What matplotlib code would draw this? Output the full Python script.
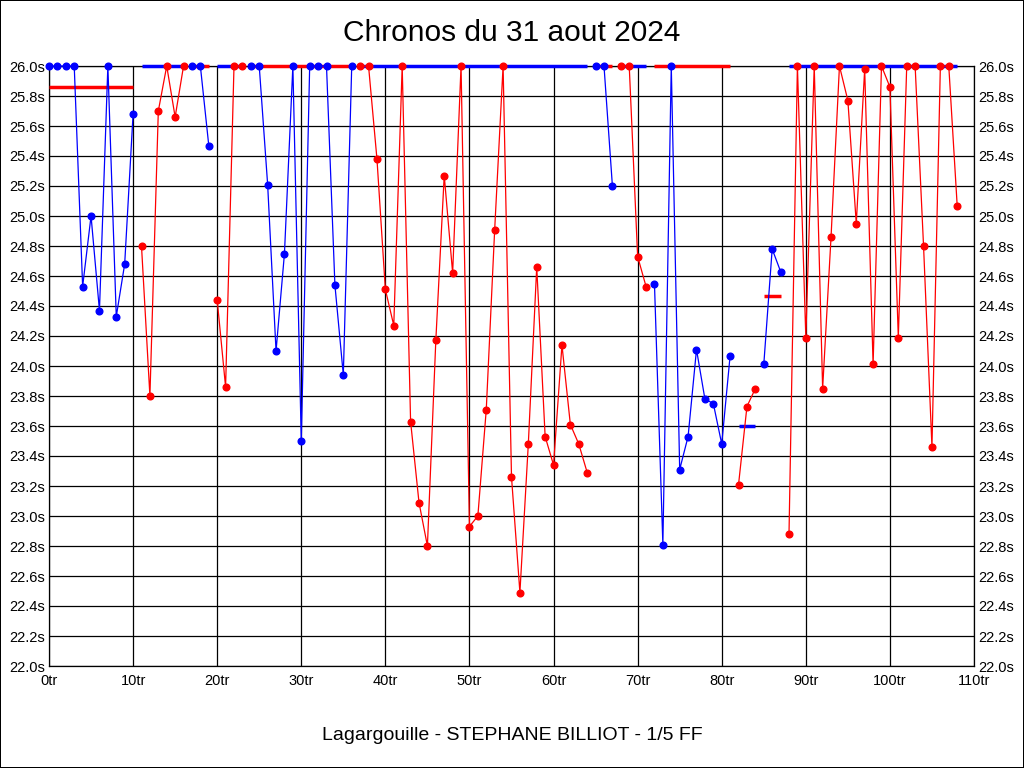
import matplotlib
matplotlib.use("Agg")
import matplotlib.pyplot as plt
from matplotlib.ticker import FuncFormatter, MultipleLocator

TITLE = "Chronos du 31 aout 2024"
SUBTITLE = "Lagargouille - STEPHANE BILLIOT - 1/5 FF"

# lap times in seconds, 26.0 = off the scale (clipped)
lap_times = [
    26.0, 26.0, 26.0, 26.0, 24.53, 25.00, 24.37, 26.0, 24.33, 24.68, 25.68,  # 0-10
    24.80, 23.80, 25.70, 26.0, 25.66, 26.0,  # 11-16
    26.0, 26.0, 25.47,  # 17-19
    24.44, 23.86, 26.0, 26.0,  # 20-23
    26.0, 26.0, 25.21, 24.10, 24.75, 26.0, 23.50, 26.0, 26.0, 26.0, 24.54, 23.94, 26.0,  # 24-36
    26.0, 26.0, 25.38, 24.51, 24.27, 26.0, 23.63, 23.09, 22.80, 24.17,
    25.27, 24.62, 26.0, 22.93, 23.00, 23.71, 24.91, 26.0, 23.26, 22.49,
    23.48, 24.66, 23.53, 23.34, 24.14, 23.61, 23.48, 23.29,  # 37-64
    26.0, 26.0, 25.20,  # 65-67
    26.0, 26.0, 24.73, 24.53,  # 68-71
    24.55, 22.81, 26.0, 23.31, 23.53, 24.11, 23.78, 23.75, 23.48, 24.07,  # 72-81
    23.21, 23.73, 23.85,  # 82-84
    24.01, 24.78, 24.63,  # 85-87
    22.88, 26.0, 24.19, 26.0, 23.85, 24.86, 26.0, 25.77, 24.95, 25.98,
    24.01, 26.0, 25.86, 24.19, 26.0, 26.0, 24.80, 23.46, 26.0, 26.0, 25.07,  # 88-108
]

# first lap of each stint, colour of the stint and level of the other colour's bar
stint_starts = [0, 11, 17, 20, 24, 37, 65, 68, 72, 82, 85, 88]
stint_colors = ["blue", "red", "blue", "red", "blue", "red",
                "blue", "red", "blue", "red", "blue", "red"]
other_levels = [25.86, 26.0, 26.0, 26.0, 26.0, 26.0,
                26.0, 26.0, 26.0, 23.60, 24.47, 26.0]


def main():
    plt.rcParams["font.family"] = ["Liberation Sans", "DejaVu Sans"]

    fig = plt.figure(figsize=(10.24, 7.68), dpi=100)
    fig.patch.set_facecolor("white")
    fig.patch.set_edgecolor("black")
    fig.patch.set_linewidth(1.2)
    ax = fig.add_axes([49 / 1024, 1 - 666 / 768, 925 / 1024, 600 / 768])

    ends = stint_starts[1:] + [len(lap_times)]
    for start, end, color, level in zip(stint_starts, ends, stint_colors, other_levels):
        other = "red" if color == "blue" else "blue"
        ax.plot([start, end - 1], [level, level], color=other, lw=2.5,
                solid_capstyle="butt", clip_on=False, zorder=3)

    for start, end, color in zip(stint_starts, ends, stint_colors):
        laps = list(range(start, end))
        ax.plot(laps, lap_times[start:end], color=color, lw=0.9,
                marker="o", markersize=4.8, clip_on=False, zorder=4)

    ax.set_xlim(0, 110)
    ax.set_ylim(22.0, 26.0)
    ax.xaxis.set_major_locator(MultipleLocator(10))
    ax.yaxis.set_major_locator(MultipleLocator(0.2))
    ax.xaxis.set_major_formatter(FuncFormatter(lambda v, _: f"{int(round(v))}tr"))
    ax.yaxis.set_major_formatter(FuncFormatter(lambda v, _: f"{v:.1f}s"))
    ax.grid(True, color="black", linewidth=0.9)
    ax.set_axisbelow(True)
    for spine in ax.spines.values():
        spine.set_color("black")
        spine.set_linewidth(0.9)
    ax.tick_params(axis="both", length=0, labelsize=10.5, colors="black")
    ax.tick_params(axis="y", labelright=True, pad=3)
    ax.tick_params(axis="x", pad=6)

    fig.text(0.5, 1 - 33 / 768, TITLE, ha="center", va="center", fontsize=21.5)
    fig.text(0.5, 1 - 735 / 768, SUBTITLE, ha="center", va="center", fontsize=14)

    fig.savefig("out.png", dpi=100)
    plt.close(fig)


if __name__ == "__main__":
    main()
